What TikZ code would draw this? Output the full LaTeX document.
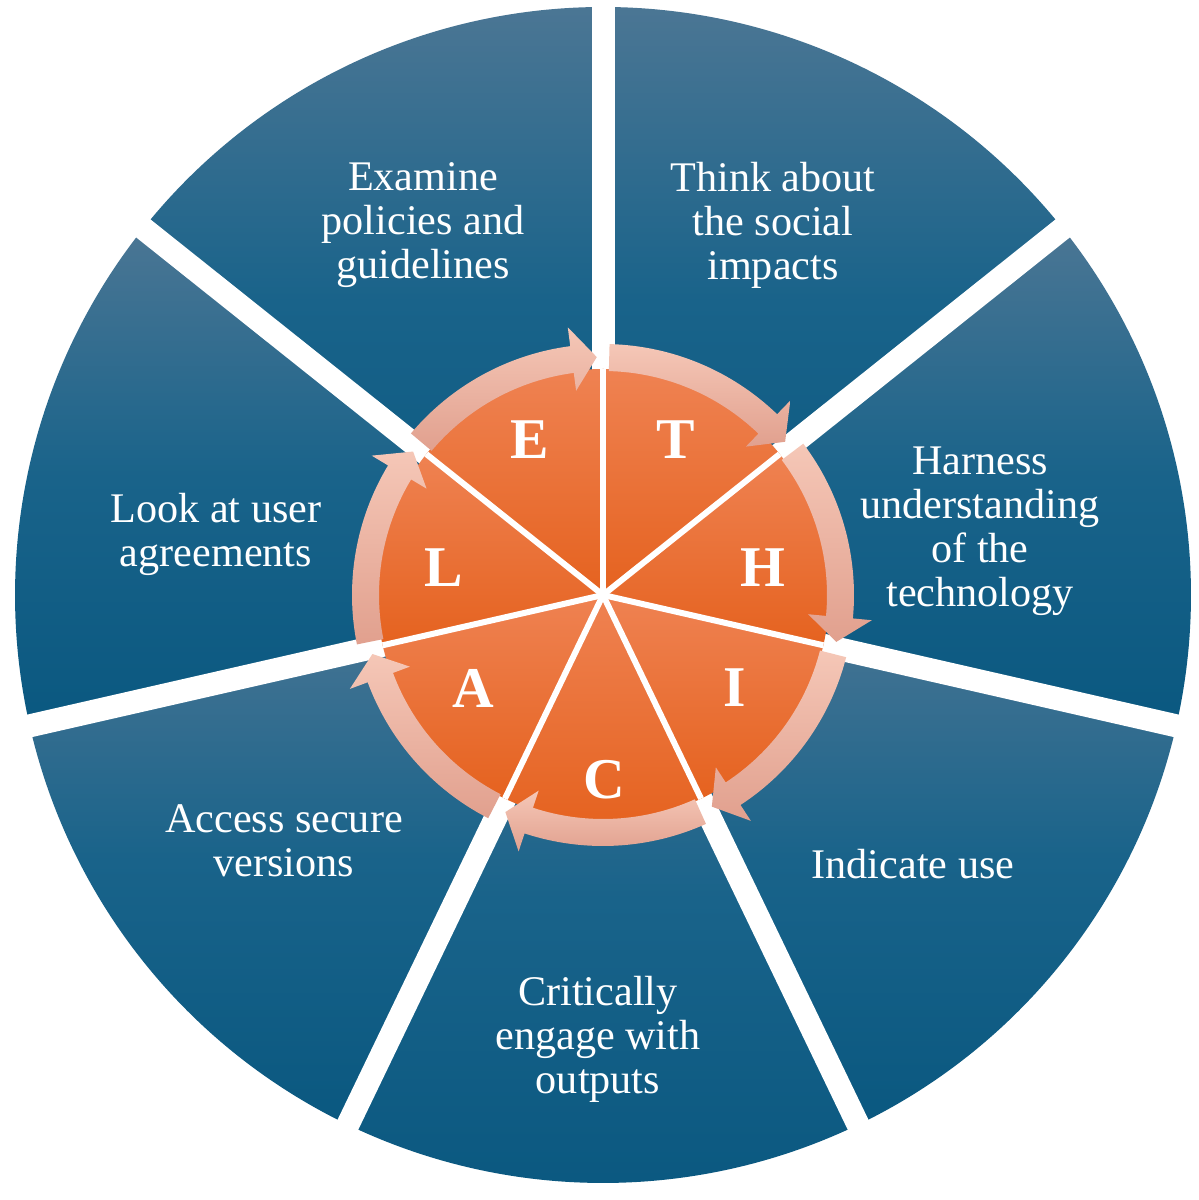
\documentclass[tikz,border=0pt]{standalone}
\usepackage{fontspec}
\setmainfont{Liberation Serif}
\usepackage{xcolor}
\usepackage{tikz}

\definecolor{bluetop}{HTML}{4B7694}
\definecolor{bluemid}{HTML}{19638A}
\definecolor{bluebot}{HTML}{0A5880}
\definecolor{orangetop}{HTML}{EF8252}
\definecolor{orangebot}{HTML}{E5621F}
\definecolor{ringtop}{HTML}{F5C7B7}
\definecolor{ringbot}{HTML}{E1A08E}

\begin{document}
\begin{tikzpicture}[x=0.025cm, y=0.025cm,
    bluewedge/.style={top color=bluetop, bottom color=bluebot, middle color=bluemid},
    orangewedge/.style={top color=orangetop, bottom color=orangebot},
    ringarrow/.style={top color=ringtop, bottom color=ringbot},
    gapline/.style={white, line width=0.575cm},
    cutline/.style={white, line width=0.15cm},
    blurb/.style={text=white, align=center, inner sep=0pt, font=\fontsize{30}{31.3}\selectfont},
    letter/.style={text=white, inner sep=0pt, font=\fontsize{41}{41}\selectfont\bfseries}]

    \path[use as bounding box, fill=white] (-603,-605) rectangle (595,595);

    % outer wedges
    \foreach \k in {0,...,6}
      \shade[bluewedge] (0,0) -- ({90-\k*360/7}:588)
        arc[start angle={90-\k*360/7}, delta angle={-360/7}, radius=588] -- cycle;
    \foreach \k in {0,...,6}
      \draw[gapline] (0,0) -- ({90-\k*360/7}:610);

    % inner pie
    \foreach \k in {0,...,6}
      \shade[orangewedge] (0,0) -- ({90-\k*360/7}:226)
        arc[start angle={90-\k*360/7}, delta angle={-360/7}, radius=226] -- cycle;
    \foreach \k in {0,...,6}
      \draw[cutline] (0,0) -- ({90-\k*360/7}:226);

    % ring of arrows
    \foreach \k in {0,...,6}{
      \pgfmathsetmacro\tail{88.5-\k*360/7}
      \pgfmathsetmacro\neck{90-(\k+1)*360/7+7.5}
      \pgfmathsetmacro\tip{90-(\k+1)*360/7+1.5}
      \shade[ringarrow] (\tail:224) arc[start angle=\tail, end angle=\neck, radius=224]
        -- (\neck:206) -- (\tip:238) -- (\neck:270) -- (\neck:251)
        arc[start angle=\neck, end angle=\tail, radius=251] -- cycle;
    }

    \node[blurb] (examine) at (-180,370) {Examine\\policies and\\guidelines};
    \node[blurb] (think) at (170,370) {Think about\\the social\\impacts};
    \node[blurb] (harness) at (377,64) {Harness\\understanding\\of the\\technology};
    \node[blurb] (indicate) at (310,-269) {Indicate use};
    \node[blurb] (critically) at (-5,-444) {Critically\\engage with\\outputs};
    \node[blurb] (access) at (-319,-246) {Access secure\\versions};
    \node[blurb] (look) at (-387,61) {Look at user\\agreements};

    \node[letter] (E) at (-73,155) {E};
    \node[letter] (T) at (73,155) {T};
    \node[letter] (H) at (160,27) {H};
    \node[letter] (I) at (132,-93) {I};
    \node[letter] (C) at (1,-185) {C};
    \node[letter] (A) at (-130,-93) {A};
    \node[letter] (L) at (-159,27) {L};
\end{tikzpicture}
\end{document}
